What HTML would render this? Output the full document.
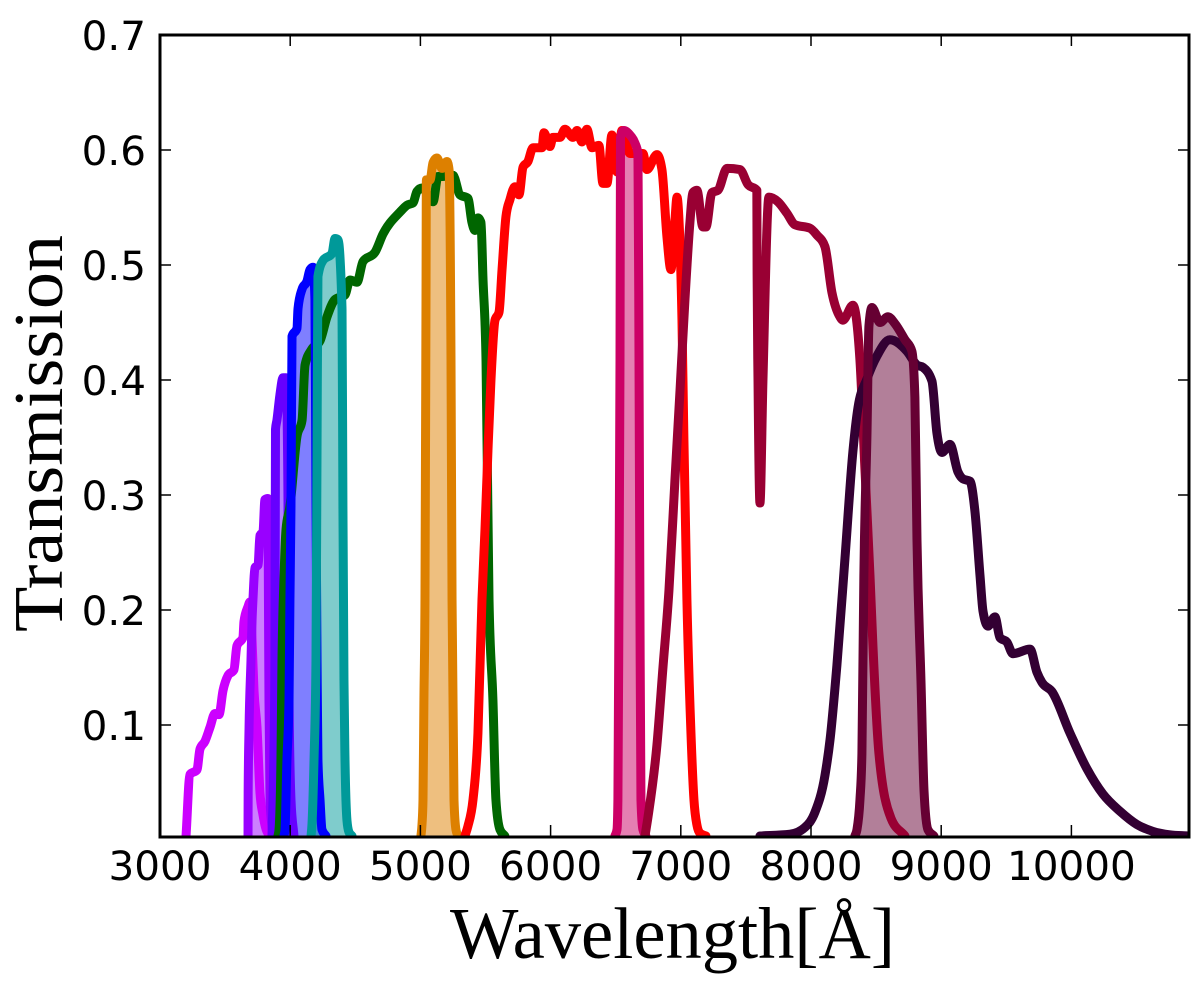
<!DOCTYPE html>
<html lang="en">
<head>
<meta charset="utf-8">
<title>Filter transmission curves</title>
<style>
html,body{margin:0;padding:0;background:#fff;width:1200px;height:984px;overflow:hidden}
svg{display:block}
.tick{font-family:"DejaVu Sans",sans-serif;font-size:40.5px;fill:#000}
.axis-title{font-family:"Liberation Serif",serif;font-size:73px;fill:#000}
.axis-title-y{font-family:"Liberation Serif",serif;font-size:70px;fill:#000}
</style>
</head>
<body>
<svg id="chart" xmlns="http://www.w3.org/2000/svg" width="1200" height="984" viewBox="0 0 1200 984">
<rect x="0" y="0" width="1200" height="984" fill="#fff"/>
<defs><clipPath id="plot-clip"><rect x="160" y="35" width="1029" height="802"/></clipPath></defs>
<g id="fills" clip-path="url(#plot-clip)"></g>
<g id="lines" clip-path="url(#plot-clip)"></g>
<g id="ticks"></g>
<rect x="160" y="35" width="1029" height="802" fill="none" stroke="#000" stroke-width="3"/>
<g id="labels"></g>
<text class="axis-title" x="450" y="958" textLength="445" lengthAdjust="spacingAndGlyphs">Wavelength[Å]</text>
<text class="axis-title-y" transform="translate(62,632) rotate(-90)" x="0" y="0" textLength="397" lengthAdjust="spacingAndGlyphs">Transmission</text>
</svg>
<script>
const xTickLabels = [3000,4000,5000,6000,7000,8000,9000,10000];
const yTickLabels = [0.1,0.2,0.3,0.4,0.5,0.6,0.7];

const uWave = [3200,3230,3284,3307,3346,3384,3422,3453,3484,3522,3568,3591,3637,3645,3676,3691,3707,3722,3745,3768,3791,3829,3883];
const uTrans = [.0035,.057,.061,.079,.086,.098,.110,.109,.130,.143,.148,.169,.176,.190,.203,.207,.174,.130,.098,.041,.022,.006,.0035];

const f378Wave = [3676,3677,3684,3699,3707,3714,3730,3753,3768,3791,3806,3829,3833,3837,3845,3868];
const f378Trans = [.0035,.041,.098,.157,.191,.209,.237,.239,.265,.268,.296,.297,.209,.122,.035,.0035];

const f395Wave = [3860,3868,3883,3887,3898,3921,3945,3968,3983,3991,4006,4029];
const f395Trans = [.0035,.035,.157,.357,.365,.387,.402,.402,.296,.122,.035,.0035];

const gWave = [3906,3914,3929,3937,3952,3968,3998,4052,4091,4114,4167,4229,4283,4344,4421,4459,4513,4559,4651,4713,4843,4897,4943,4974,5012,5097,5135,5173,5250,5304,5365,5396,5419,5442,5465,5481,5504,5527,5557,5580,5611,5649];
const gTrans = [.0035,.0087,.0696,.1565,.226,.27,.290,.351,.365,.413,.427,.434,.455,.470,.474,.487,.485,.503,.511,.527,.546,.552,.554,.564,.567,.555,.577,.577,.578,.561,.558,.537,.530,.541,.537,.487,.417,.209,.122,.035,.009,.0035];

const f410Wave = [3952,3960,3975,3991,3998,4006,4014,4052,4060,4091,4129,4152,4175,4190,4198,4206,4213,4229,4244,4275];
const f410Trans = [.0035,.0087,.0696,.122,.209,.290,.438,.445,.462,.479,.486,.496,.498,.470,.296,.157,.070,.035,.009,.0035];

const f430Wave = [4160,4167,4183,4198,4206,4213,4252,4321,4344,4367,4398,4405,4413,4421,4436,4451,4475];
const f430Trans = [.0035,.013,.070,.157,.339,.490,.504,.510,.523,.522,.462,.290,.139,.070,.017,.007,.0035];

const f515Wave = [5004,5012,5020,5027,5035,5043,5046,5074,5097,5127,5166,5204,5220,5235,5243,5258,5273,5289];
const f515Trans = [.0035,.013,.035,.122,.209,.470,.574,.574,.589,.593,.584,.590,.583,.417,.209,.035,.009,.0035];

const rWave = [5342,5365,5404,5442,5473,5496,5519,5542,5573,5604,5627,5657,5688,5726,5757,5788,5826,5865,5934,5949,5995,6018,6072,6110,6172,6203,6241,6279,6318,6371,6402,6433,6471,6510,6548,6610,6709,6740,6817,6855,6894,6924,6955,6971,6986,7009,7024,7047,7078,7101,7124,7147,7193];
const rTrans = [.0035,.012,.035,.093,.209,.270,.339,.400,.452,.459,.496,.542,.557,.568,.561,.585,.590,.602,.602,.615,.603,.611,.611,.618,.611,.617,.607,.618,.602,.604,.571,.571,.613,.581,.617,.597,.597,.583,.596,.583,.524,.496,.539,.559,.539,.452,.348,.209,.093,.035,.013,.006,.0035];

const f660Wave = [6494,6510,6517,6525,6533,6537,6564,6610,6648,6671,6679,6686,6694,6709,6732];
const f660Trans = [.0035,.009,.035,.209,.417,.611,.617,.613,.606,.597,.417,.209,.035,.009,.0035];

const iWave = [6725,6748,6817,6863,6909,6955,6994,7032,7070,7093,7124,7170,7193,7239,7285,7355,7454,7516,7584,7586,7593,7608,7631,7677,7746,7815,7877,7992,8046,8107,8161,8222,8245,8322,8376,8414,8453,8476,8522,8614,8722];
const iTrans = [.0035,.020,.083,.150,.217,.313,.391,.470,.537,.563,.565,.533,.533,.563,.565,.584,.583,.570,.565,.493,.400,.293,.400,.559,.555,.545,.535,.532,.526,.516,.476,.455,.452,.465,.417,.323,.230,.168,.075,.019,.0035];

const zWave = [7608,7838,7954,8030,8107,8146,8199,8261,8322,8361,8430,8507,8606,8737,8814,8860,8929,8967,9006,9067,9129,9167,9221,9259,9298,9321,9359,9413,9451,9505,9551,9682,9735,9774,9851,9989,10119,10242,10373,10503,10626,10757,10895];
const zTrans = [.0035,.005,.011,.024,.056,.087,.152,.245,.338,.376,.401,.421,.435,.425,.413,.411,.399,.354,.337,.344,.320,.314,.312,.286,.230,.199,.186,.194,.176,.172,.162,.166,.146,.137,.129,.093,.062,.040,.025,.0135,.0075,.0045,.0035];

const f861Wave = [8337,8353,8376,8391,8406,8430,8445,8468,8530,8591,8645,8722,8775,8798,8814,8845,8868,8898,8944];
const f861Trans = [.0035,.009,.035,.075,.230,.354,.447,.463,.450,.455,.449,.435,.425,.385,.261,.137,.043,.009,.0035];

const seriesNames = ['u-band','f378-band','f395-band','g-band','f410-band','f430-band','f515-band','r-band','f660-band','i-band','z-band','f861-band'];
const seriesWaves = [uWave,f378Wave,f395Wave,gWave,f410Wave,f430Wave,f515Wave,rWave,f660Wave,iWave,zWave,f861Wave];
const seriesTrans = [uTrans,f378Trans,f395Trans,gTrans,f410Trans,f430Trans,f515Trans,rTrans,f660Trans,iTrans,zTrans,f861Trans];
const seriesColors = ['#cc00ff','#9900ff','#6600ff','#006600','#0000ff','#009999','#dd8000','#ff0000','#cc0066','#990033','#330033','#660033'];
const seriesFilled = [false,true,true,false,true,true,true,false,true,false,false,true];

const SVG_NS = 'http://www.w3.org/2000/svg';
const xScale = function (w) { return 160 + (w - 3000) * 0.1302; };
const yScale = function (t) { return 725 + (0.1 - t) * 1150; };

function monotonePath(xs, ys) {
  const n = xs.length;
  const h = [];
  const s = [];
  for (let i = 0; i < n - 1; i++) {
    h[i] = Math.max(xs[i + 1] - xs[i], 0.01);
    s[i] = (ys[i + 1] - ys[i]) / h[i];
  }
  const m = [s[0]];
  for (let i = 1; i < n - 1; i++) {
    const p = (s[i - 1] * h[i] + s[i] * h[i - 1]) / (h[i - 1] + h[i]);
    m[i] = (Math.sign(s[i - 1]) + Math.sign(s[i])) * Math.min(Math.abs(s[i - 1]), Math.abs(s[i]), 0.5 * Math.abs(p));
  }
  m[n - 1] = s[n - 2];
  let d = 'M' + xs[0].toFixed(2) + ' ' + ys[0].toFixed(2);
  for (let i = 0; i < n - 1; i++) {
    const c = h[i] / 3;
    d += 'C' + (xs[i] + c).toFixed(2) + ' ' + (ys[i] + m[i] * c).toFixed(2) + ' ' +
      (xs[i + 1] - c).toFixed(2) + ' ' + (ys[i + 1] - m[i + 1] * c).toFixed(2) + ' ' +
      xs[i + 1].toFixed(2) + ' ' + ys[i + 1].toFixed(2);
  }
  return d;
}

const fillLayer = document.getElementById('fills');
const lineLayer = document.getElementById('lines');
const tickLayer = document.getElementById('ticks');
const labelLayer = document.getElementById('labels');

seriesNames.forEach(function (name, i) {
  const xs = seriesWaves[i].map(xScale);
  const ys = seriesTrans[i].map(yScale);
  const d = monotonePath(xs, ys);
  if (seriesFilled[i]) {
    const area = document.createElementNS(SVG_NS, 'path');
    
    
    area.setAttribute('d', d + 'Z');
    area.setAttribute('fill', seriesColors[i]);
    area.setAttribute('fill-opacity', '0.5');
    fillLayer.appendChild(area);
  }
  const line = document.createElementNS(SVG_NS, 'path');
  
  
  line.setAttribute('d', d);
  line.setAttribute('fill', 'none');
  line.setAttribute('stroke', seriesColors[i]);
  line.setAttribute('stroke-width', '9');
  line.setAttribute('stroke-linejoin', 'round');
  line.setAttribute('stroke-linecap', 'round');
  lineLayer.appendChild(line);
});

function addTick(x1, y1, x2, y2, tickName) {
  const t = document.createElementNS(SVG_NS, 'line');
  
  
  t.setAttribute('x1', x1);
  t.setAttribute('y1', y1);
  t.setAttribute('x2', x2);
  t.setAttribute('y2', y2);
  t.setAttribute('stroke', '#000');
  t.setAttribute('stroke-width', '1.5');
  tickLayer.appendChild(t);
}

xTickLabels.forEach(function (v) {
  const x = xScale(v);
  addTick(x, 836, x, 825, 'x-tick-bottom-' + v);
  addTick(x, 35, x, 46, 'x-tick-top-' + v);
  const label = document.createElementNS(SVG_NS, 'text');
  
  
  label.setAttribute('class', 'tick');
  label.setAttribute('x', x);
  label.setAttribute('y', 880);
  label.setAttribute('text-anchor', 'middle');
  label.textContent = String(v);
  labelLayer.appendChild(label);
});

yTickLabels.forEach(function (v) {
  const y = yScale(v);
  addTick(160, y, 171, y, 'y-tick-left-' + v);
  addTick(1189, y, 1178, y, 'y-tick-right-' + v);
  const label = document.createElementNS(SVG_NS, 'text');
  
  
  label.setAttribute('class', 'tick');
  label.setAttribute('x', 146);
  label.setAttribute('y', y + 15);
  label.setAttribute('text-anchor', 'end');
  label.textContent = v.toFixed(1);
  labelLayer.appendChild(label);
});
</script>
</body>
</html>
